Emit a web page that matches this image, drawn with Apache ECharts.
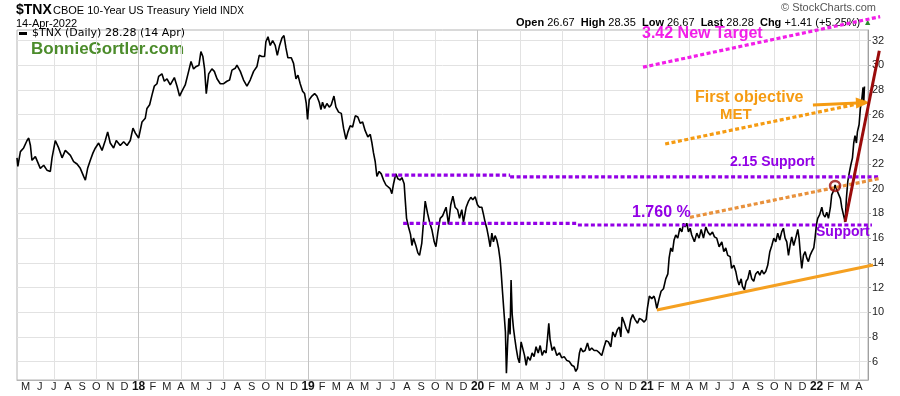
<!DOCTYPE html>
<html><head><meta charset="utf-8">
<script src="https://cdn.jsdelivr.net/npm/echarts@6/dist/echarts.min.js"></script>
<style>html,body{margin:0;padding:0;background:#fff}#c{width:900px;height:396px}</style>
</head><body><div id="c"></div>
<script>
// x = month index (0 = Jan 2017), y = $TNX (10-yr yield x10)
const tnx = [
[3.39,22.5],[3.45,21.8],[3.63,23.0],[3.86,23.3],[4.10,23.9],[4.22,24.1],[4.34,23.5],[4.45,22.3],[4.69,22.6],[5.04,21.65],
[5.28,21.9],[5.51,21.5],[5.75,21.4],[5.87,22.5],[6.10,23.9],[6.34,23.3],[6.58,22.5],[6.81,23.1],[7.17,22.7],[7.40,22.2],
[7.64,22.0],[7.87,21.65],[8.11,21.0],[8.23,20.7],[8.39,21.65],[8.58,22.3],[8.77,22.9],[8.94,23.3],[9.17,23.7],[9.41,23.1],
[9.64,23.9],[9.81,24.6],[9.99,23.7],[10.23,23.3],[10.42,23.9],[10.70,23.5],[10.94,23.8],[11.18,23.5],[11.41,23.9],[11.60,24.9],
[11.77,24.5],[12.00,24.1],[12.24,25.4],[12.47,25.7],[12.59,26.5],[12.78,26.8],[12.95,27.6],[13.11,28.3],[13.30,28.5],[13.42,29.1],
[13.65,29.3],[13.82,28.7],[14.01,28.9],[14.24,28.4],[14.53,29.0],[14.72,28.3],[14.90,27.5],[15.07,27.9],[15.30,28.4],[15.54,29.5],
[15.71,30.3],[15.89,29.7],[16.08,29.9],[16.27,30.0],[16.41,31.1],[16.55,30.7],[16.67,29.7],[16.79,27.7],[16.96,29.3],[17.19,29.7],
[17.36,29.5],[17.55,28.9],[17.78,28.5],[18.02,28.5],[18.25,28.7],[18.44,28.8],
[18.61,29.6],[18.84,29.75],[18.96,30.0],[19.20,29.5],[19.43,28.8],[19.67,28.3],[19.90,28.8],[20.14,29.5],[20.38,29.9],[20.54,30.8],
[20.73,30.7],[20.92,30.7],[21.01,31.9],[21.16,32.3],[21.32,31.6],[21.49,32.0],[21.67,31.6],[21.82,30.8],[21.98,31.6],[22.15,32.2],
[22.29,32.4],[22.43,31.4],[22.57,30.6],[22.81,30.6],[22.97,30.15],[23.14,28.9],[23.28,29.2],[23.44,28.5],[23.61,27.9],[23.75,27.7],
[23.87,26.9],[23.96,25.6],[24.08,27.2],[24.27,27.5],[24.46,27.7],[24.62,27.5],[24.79,27.0],[24.91,26.4],[25.02,27.0],[25.17,26.5],
[25.33,26.9],[25.50,26.6],[25.64,26.8],[25.83,27.5],[25.97,26.6],[26.16,26.2],[26.35,26.1],[26.51,24.9],[26.68,24.0],[26.82,24.6],
[26.98,25.1],[27.15,25.0],[27.34,25.9],[27.52,25.8],[27.69,25.3],[27.86,25.4],[28.04,24.7],[28.23,24.2],[28.40,24.4],[28.52,23.7],
[28.63,22.9],[28.75,22.2],[28.87,21.0],[29.03,21.4],[29.18,21.2],[29.34,20.7],[29.51,20.3],[29.65,20.2],[29.81,20.0],[29.93,19.6],
[30.05,20.4],[30.21,21.2],[30.36,20.8],[30.52,20.7],[30.64,20.9],[30.80,20.4],[30.87,19.2],[30.97,17.6],[31.11,16.9],[31.25,16.3],
[31.35,15.4],[31.46,16.0],[31.63,15.4],[31.77,14.8],[31.89,14.6],[32.05,15.6],[32.17,17.3],[32.29,19.0],[32.46,18.0],[32.60,17.3],
[32.76,16.7],[32.93,15.7],[33.05,15.3],[33.19,16.5],[33.35,17.6],[33.52,17.8],[33.66,17.9],
[33.77,18.5],[33.94,17.1],[34.10,18.7],[34.25,19.4],[34.41,18.5],[34.58,18.3],[34.72,17.6],[34.88,18.3],[35.00,17.3],[35.19,18.5],
[35.36,19.0],[35.52,19.3],[35.66,19.1],[35.83,19.35],[35.99,18.7],[36.13,18.5],[36.30,18.5],[36.42,17.9],[36.53,17.3],[36.65,16.8],
[36.77,16.1],[36.89,15.3],[37.01,16.4],[37.12,15.7],[37.24,16.2],[37.36,15.85],[37.48,15.2],[37.60,14.2],[37.67,13.2],[37.76,11.7],
[37.88,9.8],[37.97,8.4],[38.04,5.05],[38.12,7.3],[38.21,9.5],[38.30,8.2],[38.37,12.6],[38.45,9.8],[38.54,8.7],[38.63,7.9],
[38.73,7.1],[38.85,6.3],[38.96,5.9],[39.08,7.6],[39.20,7.5],[39.32,6.5],[39.44,5.7],[39.55,6.4],[39.72,6.1],[39.86,6.7],
[40.00,6.4],[40.14,7.2],[40.29,6.7],[40.43,7.3],[40.57,6.5],[40.71,6.9],[40.85,6.7],[40.95,7.9],[41.04,9.1],[41.13,7.8],
[41.28,6.9],[41.42,7.2],[41.61,6.5],[41.80,6.7],[41.96,6.3],[42.13,6.4],[42.31,6.1],[42.50,6.0],[42.67,5.7],[42.83,5.6],
[42.95,5.2],[43.07,5.45],[43.21,6.7],[43.31,7.1],[43.45,6.8],[43.61,6.9],[43.78,7.5],[43.92,6.9],[44.08,7.1],[44.25,6.9],
[44.44,6.9],[44.63,6.7],[44.79,6.5],[44.96,7.2],[45.10,7.7],[45.26,7.6],[45.43,7.2],[45.57,8.4],[45.73,8.0],[45.90,8.6],
[46.04,8.8],[46.14,8.0],[46.23,9.6],[46.37,9.2],[46.51,8.7],[46.68,8.3],[46.84,9.4],[46.98,9.8],[47.15,9.4],[47.32,9.1],
[47.46,9.5],[47.62,9.4],[47.79,9.2],[47.93,9.4],[48.02,10.3],[48.16,11.3],[48.33,11.1],[48.49,11.3],
[48.57,11.0],[48.69,10.3],[48.85,11.1],[48.99,11.7],[49.16,11.9],[49.32,12.7],[49.47,13.1],[49.56,14.4],[49.68,15.2],[49.80,14.9],
[49.91,15.85],[50.03,16.25],[50.17,16.0],[50.32,16.8],[50.46,16.5],[50.58,17.2],[50.69,16.9],[50.81,17.2],[50.93,16.5],[51.05,16.8],
[51.16,16.25],[51.35,15.7],[51.52,16.4],[51.68,16.0],[51.83,16.7],[51.99,16.0],[52.16,16.9],[52.30,16.5],[52.46,16.25],[52.63,16.5],
[52.77,16.1],[52.93,16.0],[53.10,15.3],[53.29,15.7],[53.43,14.9],[53.57,15.2],[53.71,14.6],[53.88,14.5],[53.98,13.55],[54.14,13.8],
[54.28,13.3],[54.40,12.6],[54.51,12.2],[54.66,12.7],[54.75,12.1],[54.89,11.8],[55.01,12.5],[55.13,12.7],[55.27,13.4],[55.41,12.7],
[55.55,12.5],[55.69,13.1],[55.84,13.3],[55.98,13.0],[56.12,13.4],[56.26,13.1],[56.40,13.3],[56.54,13.8],[56.69,14.9],[56.83,15.4],
[56.97,16.0],[57.11,15.7],[57.25,16.4],[57.39,15.85],[57.53,16.5],[57.65,16.8],[57.77,16.0],[57.89,15.7],[58.01,14.6],[58.12,15.4],
[58.24,16.1],[58.38,15.4],[58.52,16.0],[58.67,16.7],[58.76,16.0],[58.86,14.6],[58.95,13.55],[59.07,14.6],[59.19,14.9],[59.30,14.4],
[59.42,14.1],[59.54,14.6],[59.66,14.9],[59.80,15.2],[59.89,16.0],[59.99,17.1],[60.08,17.6],[60.22,17.9],[60.37,18.5],[60.48,17.9],
[60.60,17.7],[60.72,18.1],[60.84,17.6],[60.98,18.5],[61.07,19.5],[61.19,19.8],[61.31,20.3],[61.43,19.9],[61.54,20.0],[61.69,19.2],
[61.78,18.5],[61.90,17.9],[62.02,17.3],[62.11,19.2],[62.21,20.6],[62.30,21.2],[62.42,21.9],[62.54,22.5],[62.63,23.7],[62.72,24.3],
[62.82,23.7],[62.89,24.6],[63.01,25.2],[63.10,26.5],[63.20,27.2],[63.29,28.2],[63.34,27.0],[63.39,28.28]
];

// annotation lines [month index, value]
const support215A = [[29.46,21.1],[38.3,21.1]];
const support215B = [[38.3,20.95],[64.5,20.95]];
const support176A = [[30.73,17.2],[43.1,17.2]];
const support176B = [[43.1,17.06],[63.92,17.06]];
const newTarget   = [[47.71,29.84],[64.5,33.93]];
const firstObj    = [[49.28,23.62],[63.64,27.04]];
const fromLow176  = [[51.04,17.68],[64.5,20.84]];
const trendUp     = [[48.69,10.18],[64.0,13.82]];
const steepUp     = [[62.02,17.33],[64.44,31.17]];
const circlePt    = [[61.31,20.22]];
const arrowPts    = [[59.74,26.78],[63.28,26.96]];

const monthTicks = []; for (let m = 4; m <= 63; m++) monthTicks.push(m);
const quarterTicks = []; for (let m = 6; m <= 63; m += 3) quarterTicks.push(m);
const yTicks = [6,8,10,12,14,16,18,20,22,24,26,28,30,32];
const monthLetters = ['J','F','M','A','M','J','J','A','S','O','N','D'];

// main plot extent
const X_MIN = 3.39, X_MAX = 63.64, Y_MIN = 4.51, Y_MAX = 32.85;
const G = {left:17, right:32, top:30, bottom:16, W:900, H:396};
const pxPerX = (G.W - G.left - G.right) / (X_MAX - X_MIN);
const pxPerY = (G.H - G.top - G.bottom) / (Y_MAX - Y_MIN);
// overlay grid (same scale, wider) so annotations can run past the plot frame
const OX_MAX = X_MIN + (G.W - G.left) / pxPerX;
const OY_MAX = Y_MIN + (G.H - G.bottom) / pxPerY;

const PURPLE = '#9300e6', MAGENTA = '#f21ee8', ORANGE = '#f59b12', ORANGE2 = '#e8913c', DARKRED = '#9a0b0b';
const FONT = '"Liberation Sans", Arial, sans-serif';

function ann(name, data, color, width, dash, z) {
  return {type:'line', name, data, xAxisIndex:1, yAxisIndex:1, clip:false, symbol:'none', silent:true, z:z || 4,
    lineStyle:{color, width, type:dash || 'solid', cap:'butt'}};
}
const DOT = [4,2.5];

const chart = echarts.init(document.getElementById('c'), null, {renderer:'canvas'});
chart.setOption({
  animation:false,
  backgroundColor:'#fff',
  grid:[
    {left:G.left, right:G.right, top:G.top, bottom:G.bottom, show:true, borderColor:'#b4b4b4', borderWidth:1, containLabel:false},
    {left:G.left, right:0, top:0, bottom:G.bottom, show:false, containLabel:false}
  ],
  legend:{show:true, left:19, top:28, padding:0, data:[{name:'$TNX', icon:'rect'}], itemWidth:8, itemHeight:3,
    formatter:()=> '$TNX (Daily) 28.28 (14 Apr)',
    textStyle:{fontFamily:'"DejaVu Sans", Verdana, sans-serif', fontSize:11, color:'#000'}},
  xAxis:[{type:'value', gridIndex:0, min:X_MIN, max:X_MAX,
    axisLine:{show:true, lineStyle:{color:'#b4b4b4'}},
    axisTick:{show:false, customValues:quarterTicks},
    splitLine:{show:true, lineStyle:{color:['#e2e2e2','#e2e2e2','#c4c4c4','#e2e2e2'], width:1}},
    axisLabel:{customValues:monthTicks, margin:1, fontFamily:FONT, fontSize:11, color:'#222',
      formatter:(v)=>{ const m = Math.round(v); return m % 12 === 0 ? '{y|' + String(17 + m/12).padStart(2,'0') + '}' : monthLetters[m % 12]; },
      rich:{y:{fontWeight:'bold', fontSize:12, fontFamily:FONT, color:'#111'}}}
  },{type:'value', gridIndex:1, min:X_MIN, max:OX_MAX, show:false}],
  yAxis:[{type:'value', gridIndex:0, position:'right', min:Y_MIN, max:Y_MAX,
    axisLine:{show:true, lineStyle:{color:'#a0a0a0'}},
    axisTick:{show:true, length:3, customValues:yTicks, lineStyle:{color:'#a0a0a0'}},
    splitLine:{show:true, lineStyle:{color:'#e2e2e2', width:1}},
    axisLabel:{customValues:yTicks, margin:4, fontFamily:FONT, fontSize:11, color:'#222'}
  },{type:'value', gridIndex:1, min:Y_MIN, max:OY_MAX, show:false}],
  series:[
    {type:'line', name:'$TNX', data:tnx, symbol:'none', z:3, lineStyle:{color:'#000', width:1.6}, itemStyle:{color:'#000'}},
    ann('s215a', support215A, PURPLE, 3.2, DOT),
    ann('s215b', support215B, PURPLE, 3.2, DOT),
    ann('s176a', support176A, PURPLE, 3.2, DOT),
    ann('s176b', support176B, PURPLE, 3.2, DOT),
    ann('target', newTarget, MAGENTA, 3.2, DOT),
    Object.assign(ann('firstObj', firstObj, ORANGE, 3.2, DOT), {
      markLine:{silent:true, symbol:['none','triangle'], symbolSize:[11,14], label:{show:false},
        lineStyle:{color:ORANGE, width:3, type:'solid'}, data:[[{coord:arrowPts[0]},{coord:arrowPts[1]}]]}
    }),
    ann('fromLow', fromLow176, ORANGE2, 3.2, DOT),
    ann('trend', trendUp, '#f5a021', 3),
    ann('steep', steepUp, DARKRED, 3, null, 5),
    {type:'scatter', name:'circle', data:circlePt, xAxisIndex:1, yAxisIndex:1, clip:false, symbol:'circle', symbolSize:10, silent:true, z:6,
      itemStyle:{color:'rgba(0,0,0,0)', borderColor:DARKRED, borderWidth:2.5}}
  ],
  graphic:[
    {type:'text', left:16, top:3, style:{text:'$TNX', font:'bold 14px ' + FONT, fill:'#000'}},
    {type:'text', left:53, top:5, style:{text:'CBOE 10-Year US Treasury Yield', font:'11px ' + FONT, fill:'#000'}},
    {type:'text', left:220, top:6, style:{text:'INDX', font:'10px ' + FONT, fill:'#000'}},
    {type:'text', left:16, top:18, style:{text:'14-Apr-2022', font:'11px ' + FONT, fill:'#000'}},
    {type:'text', left:781, top:2, style:{text:'© StockCharts.com', font:'11px ' + FONT, fill:'#555'}},
    {type:'text', left:516, top:17, style:{
      text:'{b|Open} 26.67  {b|High} 28.35  {b|Low} 26.67  {b|Last} 28.28  {b|Chg} +1.41 (+5.25%) {g|▲}',
      font:'11px ' + FONT, fill:'#000', rich:{b:{fontWeight:'bold', fontSize:11, fontFamily:FONT}, g:{fill:'#2e8b2e', fontSize:9}}}},
    {type:'text', left:31, top:41, style:{text:'BonnieGortler.com', font:'bold 17px ' + FONT, fill:'#4c8c2b'}},
    {type:'text', left:642, top:26, z:10, style:{text:'3.42 New Target', font:'bold 16px ' + FONT, fill:MAGENTA}},
    {type:'text', left:695, top:90, z:10, style:{text:'First objective', font:'bold 16px ' + FONT, fill:ORANGE}},
    {type:'text', left:720, top:107, z:10, style:{text:'MET', font:'bold 15px ' + FONT, fill:ORANGE}},
    {type:'text', left:730, top:155, z:10, style:{text:'2.15 Support', font:'bold 14px ' + FONT, fill:PURPLE}},
    {type:'text', left:632, top:205, z:10, style:{text:'1.760 %', font:'bold 16px ' + FONT, fill:PURPLE}},
    {type:'text', left:816, top:225, z:10, style:{text:'Support', font:'bold 14px ' + FONT, fill:PURPLE}}
  ]
});
</script></body></html>
